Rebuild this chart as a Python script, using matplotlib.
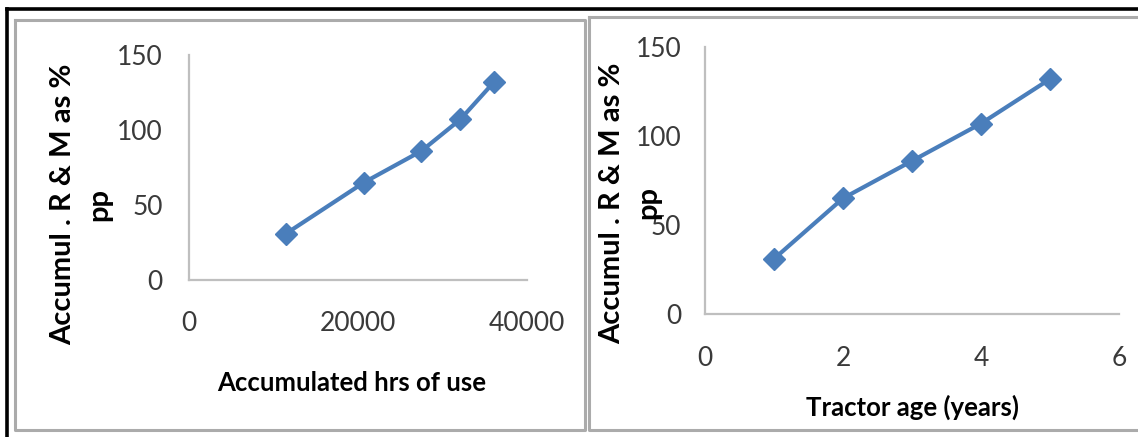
import matplotlib
matplotlib.use("Agg")
import matplotlib.pyplot as plt
from matplotlib import font_manager
from matplotlib.lines import Line2D

# Data
hours_of_use = [11500, 20700, 27500, 32100, 36100]
tractor_age = [1, 2, 3, 4, 5]
accum_rm_pct = [31, 65, 86, 107, 132]

hrs_ticks = [0, 20000, 40000]
age_ticks = [0, 2, 4, 6]
pct_ticks = [0, 50, 100, 150]

ylabel_lines = ["Accumul . R & M as %", "pp"]
xlabel_hrs = "Accumulated hrs of use"
xlabel_age = "Tractor age (years)"

# Font: prefer a narrow sans
names = {f.name for f in font_manager.fontManager.ttflist}
FONT = "Liberation Sans Narrow" if "Liberation Sans Narrow" in names else "Lato"
plt.rcParams["font.family"] = [FONT, "DejaVu Sans"]

W, H = 1138, 437
fig = plt.figure(figsize=(W / 100, H / 100), dpi=100)
fig.patch.set_facecolor("white")


def px_axes(x0, y0, x1, y1):
    """Axes from pixel box (left, top, right, bottom)."""
    return fig.add_axes([x0 / W, 1 - y1 / H, (x1 - x0) / W, (y1 - y0) / H])


def fx(x):
    return x / W


def fy(y):
    return 1 - y / H


LINE_BLUE = "#4a7ebb"
AXIS_GRAY = "#bfbfbf"
TICK_COLOR = "#3a3a3a"
PANEL_GRAY = "#ababab"
LABEL_SIZE = 21
TITLE_SIZE = 18.5

# Panel frames and outer border
for xs, ys in [
    ([15, 585, 585, 15, 15], [20, 20, 430, 430, 20]),
    ([589, 1145, 1145, 589, 589], [17, 17, 430, 430, 17]),
]:
    fig.add_artist(Line2D([fx(v) for v in xs], [fy(v) for v in ys],
                          color=PANEL_GRAY, lw=2.2, transform=fig.transFigure))
fig.add_artist(Line2D([fx(7), fx(1140)], [fy(9), fy(9)], color="black",
                      lw=2.6, transform=fig.transFigure))
fig.add_artist(Line2D([fx(7), fx(7)], [fy(9), fy(440)], color="black",
                      lw=2.6, transform=fig.transFigure))


def style(ax, xticks, xlim, xpad, ypad):
    ax.set_xlim(*xlim)
    ax.set_ylim(0, 150)
    ax.set_xticks(xticks)
    ax.set_yticks(pct_ticks)
    for s in ("top", "right"):
        ax.spines[s].set_visible(False)
    for s in ("left", "bottom"):
        ax.spines[s].set_color(AXIS_GRAY)
        ax.spines[s].set_linewidth(1.6)
    ax.tick_params(axis="x", length=0, pad=xpad, labelsize=19, labelcolor=TICK_COLOR)
    ax.tick_params(axis="y", length=0, pad=ypad, labelsize=19, labelcolor=TICK_COLOR)
    ax.patch.set_alpha(0)


def ylabel(xc1, xc2, yc):
    for xc, txt in zip((xc1, xc2), ylabel_lines):
        fig.text(fx(xc), fy(yc), txt, rotation=90, ha="center", va="center",
                 fontsize=LABEL_SIZE, fontweight="bold", color="black")


# Left panel: accumulated hours of use
ax1 = px_axes(189, 55, 527, 280)
ax1.plot(hours_of_use, accum_rm_pct, color=LINE_BLUE, lw=3, marker="D",
         ms=11, mec=LINE_BLUE, mfc=LINE_BLUE, clip_on=False)
style(ax1, hrs_ticks, (0, 40000), 22, 19)
ylabel(63, 99, 204)
fig.text(fx(352), fy(383), xlabel_hrs, ha="center", va="center",
         fontsize=TITLE_SIZE, fontweight="bold", color="black")

# Right panel: tractor age
ax2 = px_axes(705, 47, 1119, 314)
ax2.plot(tractor_age, accum_rm_pct, color=LINE_BLUE, lw=3, marker="D",
         ms=11, mec=LINE_BLUE, mfc=LINE_BLUE, clip_on=False)
style(ax2, age_ticks, (0, 6), 23, 17)
ylabel(612, 648, 203)
fig.text(fx(913), fy(407), xlabel_age, ha="center", va="center",
         fontsize=TITLE_SIZE, fontweight="bold", color="black")

fig.savefig("out.png", dpi=100, facecolor="white")
